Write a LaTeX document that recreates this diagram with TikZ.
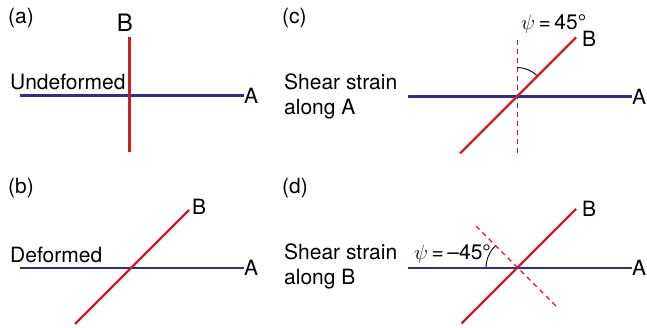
\documentclass[tikz,border=0pt]{standalone}
\usepackage{fontspec}
\setmainfont{TeX Gyre Heros}
\usetikzlibrary{positioning}
\definecolor{lineblue}{RGB}{48,45,145}
\definecolor{linered}{RGB}{208,28,38}
\tikzstyle{lineA} = [draw=lineblue, line width=2.2pt]
\tikzstyle{lineB} = [draw=linered, line width=2.2pt]
\tikzstyle{guide} = [draw=linered, line width=1.1pt, dash pattern=on 5pt off 4pt]
\tikzstyle{anglearc} = [draw=black, line width=0.9pt]
\tikzstyle{lbl} = [inner sep=0pt, font=\fontsize{21}{25}\selectfont]
\tikzstyle{panel} = [lbl, anchor=base west]

\begin{document}
\begin{tikzpicture}[x=1pt, y=1pt]
    \useasboundingbox (0,0) rectangle (647,-328);

    % (a) undeformed
    \node (aLab) [panel] at (8,-24) {(a)};
    \node (aTxt) [panel] at (10,-90) {Undeformed};
    \coordinate (aW) at (20,-95.5);
    \node (aA) [lbl, anchor=west] at (244,-95.5) {A};
    \coordinate (aS) at (129.5,-152);
    \coordinate (aN) at (129.5,-37);
    \node (aB) [lbl, font=\fontsize{24}{28}\selectfont, anchor=base] at (125,-32) {B};
    \draw[lineA] (aW) -- (aA.west);
    \draw[lineB] (aS) -- (aN);

    % (b) deformed
    \node (bLab) [panel] at (8,-194) {(b)};
    \node (bTxt) [panel] at (10,-263) {Deformed};
    \coordinate (bW) at (20,-268);
    \node (bA) [lbl, anchor=west] at (244,-268) {A};
    \coordinate (bS) at (75,-324);
    \coordinate (bN) at (189,-210);
    \node (bB) [panel] at (192,-215) {B};
    \draw[lineA] (bW) -- (bA.west);
    \draw[lineB] (bS) -- (bN);

    % (c) shear strain along A
    \node (cLab) [panel] at (282,-24) {(c)};
    \node (cTxt) [panel] at (284,-90) {Shear strain};
    \node (cTxtb) [panel] at (284,-115) {along A};
    \coordinate (cO) at (517,-96.5);
    \coordinate (cW) at (408,-96.5);
    \node (cA) [lbl, anchor=west] at (632,-96.5) {A};
    \coordinate (cS) at (460,-153.5);
    \coordinate (cN) at (576,-37.5);
    \coordinate (cGs) at (517.5,-153);
    \coordinate (cGn) at (517.5,-37);
    \node (cB) [panel] at (582,-47) {B};
    \node (cPsi) [panel] at (521,-30) {$\psi$\,=\,45°};
    \draw[guide] (cGs) -- (cGn);
    \draw[anglearc] ([yshift=29pt]cO) arc[start angle=90, end angle=45, radius=29pt];
    \draw[lineA] (cW) -- (cA.west);
    \draw[lineB] (cS) -- (cN);

    % (d) shear strain along B
    \node (dLab) [panel] at (282,-194) {(d)};
    \node (dTxt) [panel] at (284,-260) {Shear strain};
    \node (dTxtb) [panel] at (284,-285) {along B};
    \coordinate (dO) at (517,-268);
    \coordinate (dW) at (408,-268);
    \node (dA) [lbl, anchor=west] at (632,-268) {A};
    \coordinate (dS) at (461.5,-323.5);
    \coordinate (dN) at (576,-209);
    \coordinate (dGn) at (476,-226);
    \coordinate (dGs) at (557,-307);
    \node (dB) [panel] at (582,-217) {B};
    \node (dPsi) [panel] at (414,-260) {$\psi$\,=\,--45°};
    \draw[guide] (dGn) -- (dGs);
    \draw[anglearc] ([xshift=-31pt]dO) arc[start angle=180, end angle=135, radius=31pt];
    \draw[lineA] (dW) -- (dA.west);
    \draw[lineB] (dS) -- (dN);
\end{tikzpicture}
\end{document}
